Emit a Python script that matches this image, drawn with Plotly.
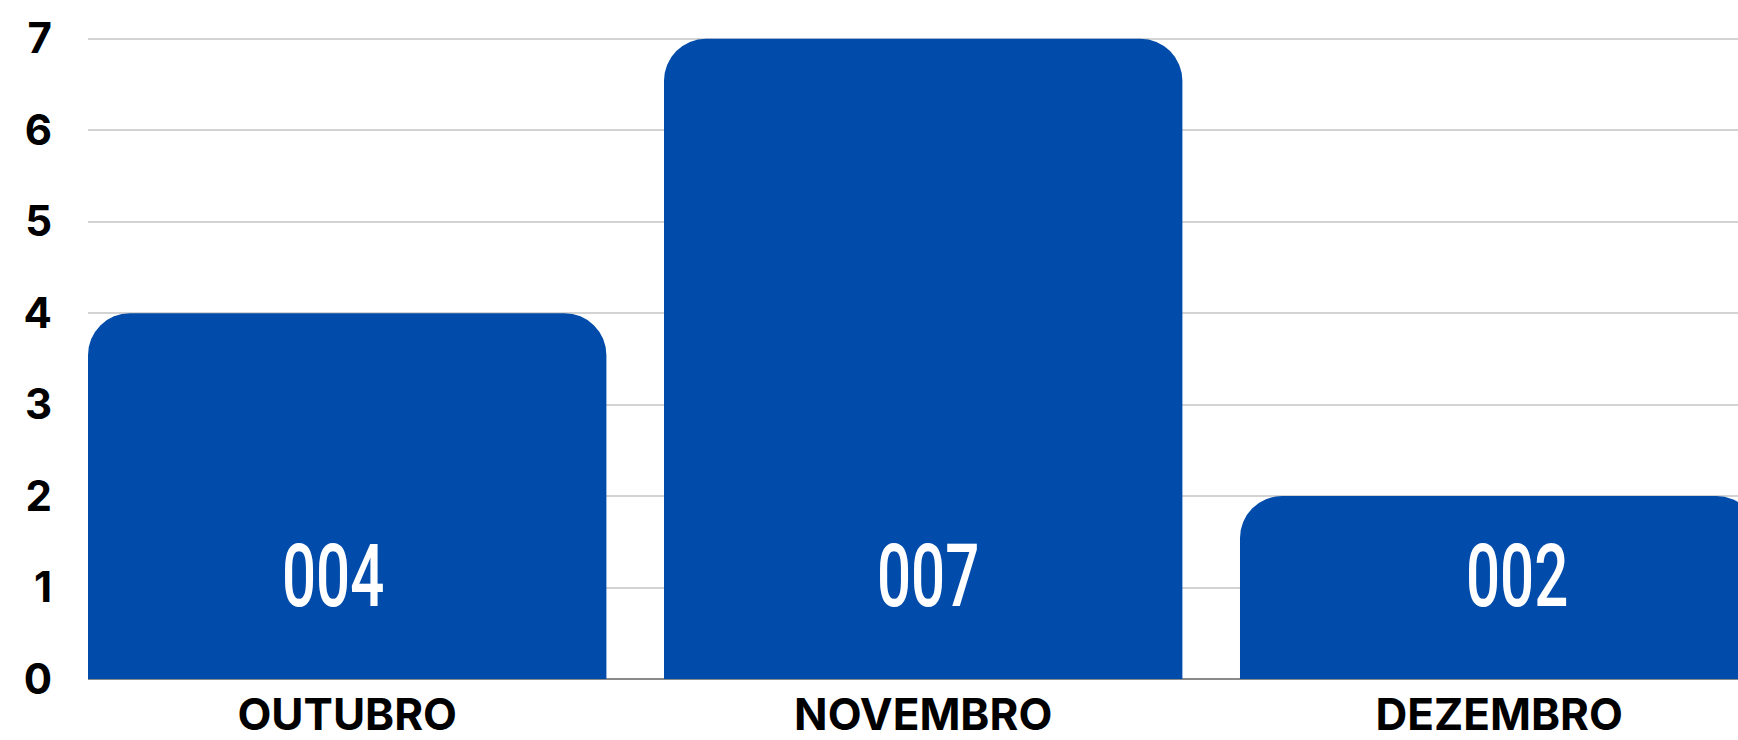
import plotly.graph_objects as go

categories = ["OUTUBRO", "NOVEMBRO", "DEZEMBRO"]
values = [4, 7, 2]
value_labels = ["004", "007", "002"]
y_ticks = [0, 1, 2, 3, 4, 5, 6, 7]

BAR = "#014CAB"

fig = go.Figure()
fig.add_trace(go.Bar(
    x=list(range(len(categories))),
    y=values,
    marker=dict(color=BAR, line=dict(width=0), cornerradius=42),
    hoverinfo="skip",
))

label_shift = [-14, 5, 18]
for i, t in enumerate(value_labels):
    fig.add_annotation(
        x=i, y=1.13, text=t, showarrow=False, xshift=label_shift[i],
        font=dict(family="Roboto, DejaVu Sans Condensed, sans-serif",
                  size=87, color="white", weight=500),
        xanchor="center", yanchor="middle",
    )

fig.update_layout(
    width=1738, height=740,
    margin=dict(l=88, r=0, t=36, b=61, autoexpand=False),
    plot_bgcolor="white", paper_bgcolor="white",
    bargap=0.1, showlegend=False,
    xaxis=dict(
        range=[-0.45, 2.4146], automargin=False,
        tickmode="array", tickvals=list(range(len(categories))), ticktext=categories,
        tickfont=dict(family="Inter, Lato, sans-serif", size=44, color="black", weight=700),
        showgrid=False, zeroline=False,
        showline=False,
        ticks="", ticklabelstandoff=6,
    ),
    yaxis=dict(
        range=[0, 7.03], automargin=False,
        tickmode="array", tickvals=y_ticks, ticktext=[str(v) for v in y_ticks],
        tickfont=dict(family="Inter, Lato, sans-serif", size=42, color="black", weight=700),
        showgrid=True, gridcolor="#D3D3D3", gridwidth=1.5,
        zeroline=True, zerolinecolor="#8A8A8A", zerolinewidth=1.5,
        ticks="", ticklabelstandoff=35,
    ),
)

post = """
document.body.style.margin = '0';
document.body.style.overflow = 'hidden';
var els = document.querySelectorAll('.annotation-text');
els.forEach(function(e){
  e.style.transformBox = 'fill-box';
  e.style.transformOrigin = 'center';
  e.style.transform = 'scaleX(0.69)';
});
"""

fig.write_html("out.html", post_script=post, config={"displayModeBar": False})
